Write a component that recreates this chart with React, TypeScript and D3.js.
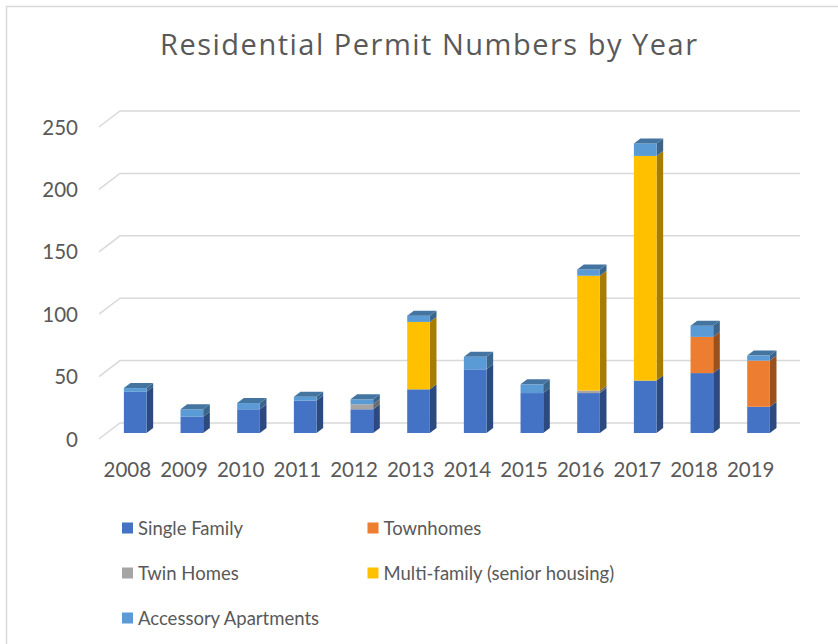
import React, { useEffect, useRef } from 'react';
import * as d3 from 'd3';

// data
const years = ['2008', '2009', '2010', '2011', '2012', '2013', '2014', '2015', '2016', '2017', '2018', '2019'];
const singleFamily = [33, 13, 19, 26, 19, 35, 51, 32, 32, 42, 48, 21];
const townhomes = [0, 0, 0, 0, 0, 0, 0, 0, 0, 0, 29, 37];
const twinHomes = [0, 0, 0, 0, 4, 0, 0, 0, 2, 0, 0, 0];
const multiFamily = [0, 0, 0, 0, 0, 54, 0, 0, 92, 180, 0, 0];
const accessory = [3, 6, 5, 3, 4, 5, 10, 7, 5, 10, 9, 4];
const yTicks = [0, 50, 100, 150, 200, 250];

const seriesNames = ['Single Family', 'Townhomes', 'Twin Homes', 'Multi-family (senior housing)', 'Accessory Apartments'];
const seriesColors = ['#4472C4', '#ED7D31', '#A5A5A5', '#FFC000', '#5B9BD5'];
// stacking order bottom -> top
const stackOrder = [0, 2, 3, 1, 4];

const W = 838;
const H = 644;
const FONT = 'Lato, "Open Sans", sans-serif';
const TEXT = '#595959';

export default function App() {
  const ref = useRef<SVGSVGElement>(null);

  useEffect(() => {
    const svg = d3.select(ref.current);
    svg.selectAll('*').remove();

    const values = [singleFamily, townhomes, twinHomes, multiFamily, accessory];

    // front plane of the floor and depth vector of the box
    const floorY = 439;
    const depthX = 21;
    const depthY = -16;
    const d0 = 0.375; // bar front depth
    const d1 = 0.69; // bar back depth

    const x = d3.scaleBand<string>().domain(years).range([99, 779]).paddingInner(0.6).paddingOuter(0.3);
    const h = d3.scaleLinear().domain([0, 250]).range([0, 312]);

    // chart border
    svg.append('rect')
      .attr('x', 6.5).attr('y', 6.5)
      .attr('width', 900).attr('height', 700)
      .attr('fill', 'none').attr('stroke', '#d9d9d9').attr('stroke-width', 1.5);

    // title
    svg.append('text')
      .attr('x', 160).attr('y', 55)
      .attr('textLength', 537).attr('lengthAdjust', 'spacing')
      .attr('font-family', '"Open Sans", sans-serif').attr('font-size', 29)
      .attr('fill', TEXT)
      .text('Residential Permit Numbers by Year');

    // back wall gridlines + left diagonal
    const grid = svg.append('g').attr('stroke', '#d9d9d9').attr('stroke-width', 1.5).attr('fill', 'none');
    yTicks.forEach(t => {
      const yf = floorY - h(t);
      grid.append('path')
        .attr('d', `M${99},${yf}L${99 + depthX},${yf + depthY}L${800},${yf + depthY}`);
    });

    // y tick labels
    svg.append('g')
      .selectAll('text')
      .data(yTicks)
      .join('text')
      .attr('x', 78)
      .attr('y', d => floorY - h(d) + 7.5)
      .attr('text-anchor', 'end')
      .attr('font-family', FONT).attr('font-size', 20.5)
      .attr('fill', TEXT)
      .text(d => d);

    // x labels
    svg.append('g')
      .selectAll('text')
      .data(years)
      .join('text')
      .attr('x', d => (x(d) as number) + x.bandwidth() / 2)
      .attr('y', 477)
      .attr('text-anchor', 'middle')
      .attr('font-family', FONT).attr('font-size', 20.5)
      .attr('fill', TEXT)
      .text(d => d);

    // bars
    const shade = (c: string, k: number) => {
      const col = d3.rgb(c);
      return d3.rgb(col.r * k, col.g * k, col.b * k).toString();
    };
    const bars = svg.append('g');
    const bw = x.bandwidth();
    const sx = (d1 - d0) * depthX;
    const sy = (d1 - d0) * depthY;
    years.forEach((yr, i) => {
      const fx = (x(yr) as number) + d0 * depthX;
      const fy = floorY + d0 * depthY;
      let acc = 0;
      let topColor = '';
      stackOrder.forEach(s => {
        const v = values[s][i];
        if (!v) return;
        const yb = fy - h(acc);
        const yt = fy - h(acc + v);
        acc += v;
        topColor = seriesColors[s];
        // side face
        bars.append('path')
          .attr('d', `M${fx + bw},${yb}L${fx + bw + sx},${yb + sy}L${fx + bw + sx},${yt + sy}L${fx + bw},${yt}Z`)
          .attr('fill', shade(seriesColors[s], 0.65));
        // front face
        bars.append('rect')
          .attr('x', fx).attr('y', yt)
          .attr('width', bw).attr('height', yb - yt)
          .attr('fill', seriesColors[s]);
      });
      const yt = fy - h(acc);
      bars.append('path')
        .attr('d', `M${fx},${yt}L${fx + sx},${yt + sy}L${fx + bw + sx},${yt + sy}L${fx + bw},${yt}Z`)
        .attr('fill', shade(topColor, 0.75));
    });

    // legend
    const legendPos = [
      [122, 528], [367.5, 528],
      [122, 573], [367.5, 573],
      [122, 618],
    ];
    const lg = svg.append('g');
    seriesNames.forEach((name, i) => {
      const [lx, ly] = legendPos[i];
      lg.append('rect')
        .attr('x', lx).attr('y', ly - 5.5)
        .attr('width', 11).attr('height', 11)
        .attr('fill', seriesColors[i]);
      lg.append('text')
        .attr('x', lx + 16).attr('y', ly + 6.5)
        .attr('font-family', FONT).attr('font-size', 18.5)
        .attr('fill', TEXT)
        .text(name);
    });
  }, []);

  return (
    <div style={{ position: 'absolute', left: 0, top: 0 }}>
      <svg ref={ref} width={W} height={H} style={{ display: 'block', background: '#fff' }} />
    </div>
  );
}
